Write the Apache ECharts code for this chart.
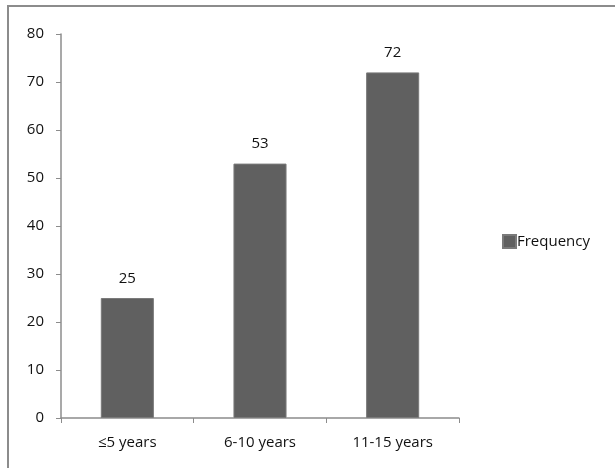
<!DOCTYPE html>
<html>
<head>
<meta charset="utf-8">
<script src="https://cdn.jsdelivr.net/npm/echarts@6/dist/echarts.min.js"></script>
<style>
  html, body { margin: 0; padding: 0; background: #fff; }
  #frame {
    position: absolute; left: 7px; top: 5px; width: 620px; height: 470px;
    border-top: 2px solid #8c8c8c; border-left: 2px solid #8c8c8c;
  }
  #chart { position: absolute; left: 0; top: 0; width: 615px; height: 468px; }
</style>
</head>
<body>
<div id="frame"></div>
<div id="chart"></div>
<script>
const categories = ['≤5 years', '6-10 years', '11-15 years']
const frequency = [25, 53, 72]
const yMin = 0
const yMax = 80
const yStep = 10

const mychart = echarts.init(document.getElementById('chart'))
mychart.setOption({
  animation: false,
  textStyle: { fontFamily: 'Open Sans, sans-serif' },
  grid: { left: 61, right: 156, top: 34, bottom: 50 },
  legend: {
    data: ['Frequency'],
    left: 497,
    top: 229,
    itemWidth: 13,
    itemHeight: 13,
    itemGap: 4,
    icon: 'rect',
    textStyle: { color: '#111', fontSize: 15, padding: [0, 0, 0, -4] },
  },
  xAxis: {
    type: 'category',
    data: categories,
    axisLine: { lineStyle: { color: '#8c8c8c', width: 1.5 } },
    axisTick: { show: true, length: 5, lineStyle: { color: '#8c8c8c' } },
    axisLabel: { color: '#111', fontSize: 15, margin: 17 },
  },
  yAxis: {
    type: 'value',
    min: yMin,
    max: yMax,
    interval: yStep,
    splitLine: { show: false },
    axisLine: { show: true, lineStyle: { color: '#8c8c8c', width: 1.5 } },
    axisTick: { show: true, length: 5, lineStyle: { color: '#8c8c8c' } },
    axisLabel: { color: '#111', fontSize: 15, margin: 17 },
  },
  series: [
    {
      name: 'Frequency',
      type: 'bar',
      data: frequency,
      barCategoryGap: '60%',
      itemStyle: { color: '#606060', borderColor: '#7a7a7a', borderWidth: 1 },
      label: {
        show: true,
        position: 'top',
        distance: 12,
        color: '#111',
        fontSize: 15,
      },
    },
  ],
})
</script>
</body>
</html>
